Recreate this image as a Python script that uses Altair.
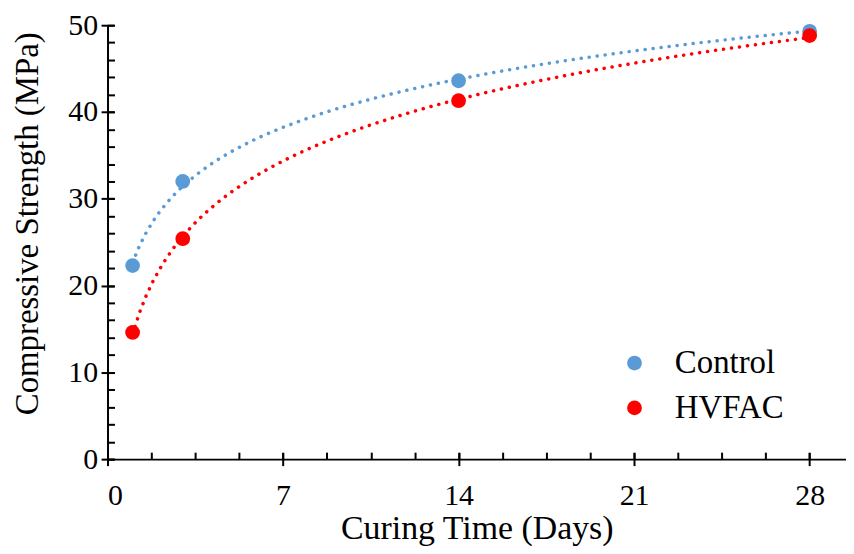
import altair as alt
import pandas as pd

days = [1, 3, 14, 28]
control = [22.3, 32.0, 43.6, 49.3]
hvfac = [14.6, 25.4, 41.3, 48.8]
series_names = ["Control", "HVFAC"]
colors = ["#5B9BD5", "#FF0000"]
x_major = [0, 7, 14, 21, 28]
x_minor = [0, 1.75, 3.5, 5.25, 7, 8.75, 10.5, 12.25, 14, 15.75, 17.5, 19.25,
           21, 22.75, 24.5, 26.25, 28]
y_major = [0, 10, 20, 30, 40, 50]
y_minor = [0, 2, 4, 6, 8, 10, 12, 14, 16, 18, 20, 22, 24, 26, 28, 30, 32, 34,
           36, 38, 40, 42, 44, 46, 48, 50]

df = pd.DataFrame({
    "day": days + days,
    "value": control + hvfac,
    "series": [series_names[0]] * len(days) + [series_names[1]] * len(days),
})

FONT = "Liberation Serif"
xscale = alt.Scale(domain=[0, 29.45], nice=False, zero=False)
yscale = alt.Scale(domain=[0, 50], nice=False)
cscale = alt.Scale(domain=series_names, range=colors)

base = alt.Chart(df)

lines = base.transform_regression(
    "day", "value", groupby=["series"], method="log", extent=[1, 28]
).mark_line(strokeWidth=3.5, strokeDash=[0.1, 8], strokeCap="round").encode(
    x=alt.X("day:Q", scale=xscale, axis=alt.Axis(
        orient="bottom", values=x_major, title="Curing Time (Days)", ticks=False,
        domainColor="black", domainWidth=2, labelFont=FONT, labelFontSize=30,
        labelColor="black", labelPadding=22, titleFont=FONT, titleFontSize=34,
        titleFontWeight="normal", titleColor="black", titleBaseline="alphabetic",
        titleY=80, titleAlign="center", grid=False)),
    y=alt.Y("value:Q", scale=yscale, axis=alt.Axis(
        orient="left", values=y_major, title="Compressive Strength (MPa)", ticks=False,
        domainColor="black", domainWidth=2, labelFont=FONT, labelFontSize=30,
        labelColor="black", labelPadding=10, titleFont=FONT, titleFontSize=33,
        titleFontWeight="normal", titleColor="black", titleAngle=270,
        titleBaseline="middle", titleAlign="center", titleX=-80, titleY=199,
        grid=False)),
    color=alt.Color("series:N", scale=cscale, legend=None),
)

points = base.mark_circle(size=220, opacity=1).encode(
    x=alt.X("day:Q", scale=xscale, axis=alt.Axis(
        orient="bottom", values=x_major, labels=False, domain=False, title=None,
        ticks=True, tickSize=13, offset=-6.5, tickWidth=2, tickColor="black", grid=False)),
    y=alt.Y("value:Q", scale=yscale, axis=alt.Axis(
        orient="left", values=y_major, labels=False, domain=False, title=None,
        ticks=True, tickSize=13, offset=-6.5, tickWidth=2, tickColor="black", grid=False)),
    color=alt.Color("series:N", scale=cscale, legend=alt.Legend(
        orient="none", legendX=513, legendY=323, title=None, labelFont=FONT,
        labelFontSize=33, labelColor="black", symbolType="circle", symbolSize=220,
        symbolStrokeWidth=0, rowPadding=11, labelOffset=24)),
)

minor = base.mark_circle(opacity=0).encode(
    x=alt.X("day:Q", scale=xscale, axis=alt.Axis(
        orient="bottom", values=x_minor, labels=False, domain=False, title=None,
        ticks=True, tickSize=7, offset=-7, tickWidth=2, tickColor="black", grid=False)),
    y=alt.Y("value:Q", scale=yscale, axis=alt.Axis(
        orient="left", values=y_minor, labels=False, domain=False, title=None,
        ticks=True, tickSize=7, offset=-7, tickWidth=2, tickColor="black", grid=False)),
)

chart = alt.layer(minor, lines, points).resolve_axis(
    x="independent", y="independent"
).resolve_legend(color="independent").properties(
    width=742, height=436,
    autosize=alt.AutoSizeParams(type="none"),
    padding={"left": 100, "top": 16, "right": 0, "bottom": 86},
).configure_view(stroke=None)

chart.save("out.html", embed_options={"renderer": "svg", "actions": False})
